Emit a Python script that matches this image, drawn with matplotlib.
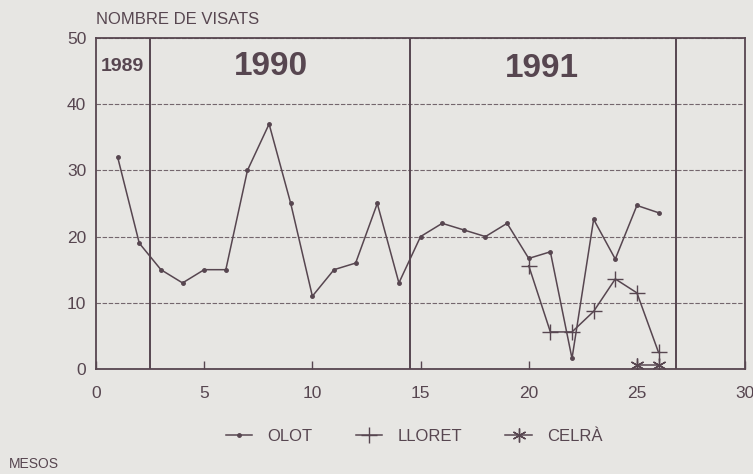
import matplotlib.pyplot as plt

# mesos (1 = nov 1989 ... 26 = des 1991)
mesos_olot = list(range(1, 27))
olot = [32, 19, 15, 13, 15, 15, 30, 37, 25, 11, 15, 16, 25, 13,
        20, 22, 21, 20, 22, 16.7, 17.7, 1.6, 22.6, 16.6, 24.7, 23.6]
mesos_lloret = [20, 21, 22, 23, 24, 25, 26]
lloret = [15.6, 5.6, 5.6, 8.7, 13.6, 11.5, 2.5]
mesos_celra = [25, 26]
celra = [0.6, 0.6]

separacions = [2.5, 14.5, 26.8]
anys = ['1989', '1990', '1991']

fons = '#e7e6e3'
tinta = '#574650'

plt.rcParams['font.family'] = 'Liberation Sans'

fig = plt.figure(figsize=(7.53, 4.74), dpi=100, facecolor=fons)
ax = fig.add_axes([0.1275, 0.2215, 0.862, 0.6985], facecolor=fons)

ax.plot(mesos_olot, olot, color=tinta, lw=1.1, marker='o', ms=2.5, label='OLOT')
ax.plot(mesos_lloret, lloret, color=tinta, lw=1.1, marker='+', ms=12, mew=1.0, label='LLORET')
ax.plot(mesos_celra, celra, color=tinta, lw=1.1, marker=(6, 2, 0), ms=10, mew=1.0, label='CELRÀ')

for s in separacions:
    ax.axvline(s, color=tinta, lw=1.4)

ax.set_xlim(0, 30)
ax.set_ylim(0, 50)
ax.set_yticks([0, 10, 20, 30, 40, 50])
ax.set_xticks([0, 5, 10, 15, 20, 25, 30])
ax.yaxis.grid(True, color=tinta, lw=0.8, ls=(0, (4, 1.5)), alpha=0.8)
ax.tick_params(axis='y', length=0, pad=7, labelsize=12.5, labelcolor=tinta)
ax.tick_params(axis='x', direction='in', length=6, width=1, color=tinta,
               pad=12, labelsize=12.5, labelcolor=tinta)
for sp in ax.spines.values():
    sp.set_color(tinta)
    sp.set_linewidth(1.3)

ax.text(0.2, 45.7, anys[0], fontsize=14, fontweight='bold', color=tinta, va='center')
ax.text(8.1, 45.7, anys[1], fontsize=24, fontweight='bold', color=tinta, va='center', ha='center')
ax.text(20.6, 45.4, anys[2], fontsize=24, fontweight='bold', color=tinta, va='center', ha='center')

fig.text(0.1275, 0.958, 'NOMBRE DE VISATS', fontsize=12, color=tinta, va='center')
fig.text(0.012, 0.021, 'MESOS', fontsize=10, color=tinta, va='center')

fig.legend(loc='center', bbox_to_anchor=(0.55, 0.08), ncol=3, frameon=False,
           fontsize=12, labelcolor=tinta, handlelength=1.6, columnspacing=2.6,
           handletextpad=0.9)

fig.savefig('out.png', dpi=100, facecolor=fons)
